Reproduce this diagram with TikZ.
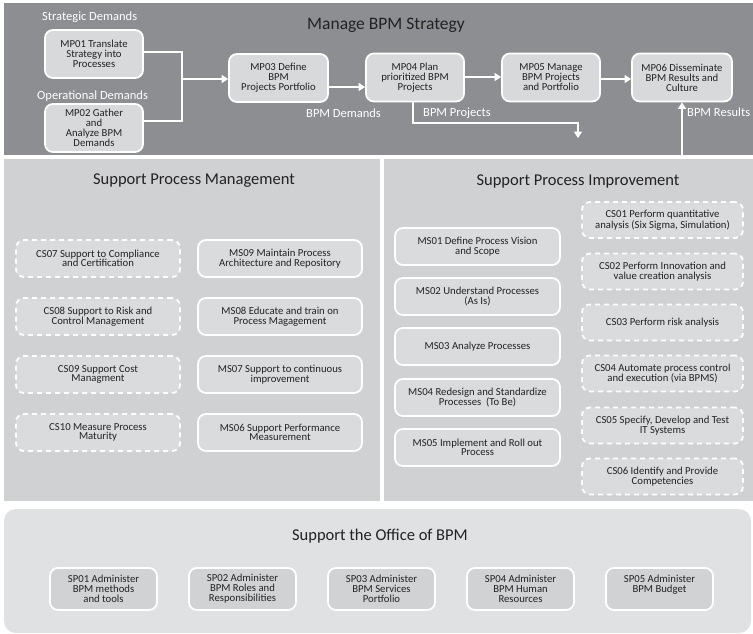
\documentclass[tikz,border=0pt]{standalone}
\usepackage{fontspec}
\setmainfont{Carlito}
\usetikzlibrary{arrows.meta}

\definecolor{bandgray}{HTML}{8D8E92}
\definecolor{panelgray}{HTML}{D0D1D3}
\definecolor{boxgray}{HTML}{D8D9DB}
\definecolor{innergray}{HTML}{DADBDD}
\definecolor{officegray}{HTML}{E0E1E3}
\definecolor{spgray}{HTML}{D1D2D4}
\definecolor{inkgray}{HTML}{222222}

\begin{document}
\begin{tikzpicture}[x=1pt,y=-1pt,
  proc/.style={draw=white, line width=1.8pt, rounded corners=8pt, fill=boxgray,
    text=inkgray, align=center, inner sep=0pt,
    font=\fontsize{10.7}{10}\selectfont},
  mpbox/.style={proc, minimum width=98pt, minimum height=48pt},
  msbox/.style={proc, fill=innergray, minimum height=37pt,
    font=\fontsize{10.7}{9.5}\selectfont},
  csbox/.style={msbox, dash pattern=on 5pt off 4pt},
  spbox/.style={proc, fill=spgray, minimum width=107pt, minimum height=42pt},
  flowline/.style={draw=white, line width=1.8pt},
  flow/.style={flowline, -{Triangle[width=8pt,length=6.5pt]}},
  whitelabel/.style={text=white, inner sep=0pt, font=\fontsize{12.5}{14}\selectfont},
  paneltitle/.style={text=inkgray, inner sep=0pt, font=\fontsize{16.5}{19}\selectfont}
]
% canvas and bounding box
\fill[white] (0,0) rectangle (753,634);
\useasboundingbox (0,0) rectangle (753,634);

% three areas
\fill[bandgray] (4,3) rectangle (753,155);
\fill[panelgray] (4,159) rectangle (380,501);
\fill[panelgray] (384,159) rectangle (753,501);
\fill[officegray, rounded corners=12pt] (4,509) rectangle (751,633);

% ---------- Manage BPM Strategy ----------
\node[paneltitle, font=\fontsize{17.5}{20}\selectfont] (ttlstrategy) at (386,25) {Manage BPM Strategy};
\node[whitelabel, anchor=west] (lblstrat) at (42,17) {Strategic Demands};
\node[whitelabel, anchor=west] (lbloper) at (37,96) {Operational Demands};

\node[mpbox] (mp01) at (94,54) {MP01 Translate\\Strategy into\\Processes};
\node[mpbox] (mp02) at (94,128) {MP02 Gather\\and\\Analyze BPM\\Demands};
\node[mpbox, minimum width=99pt] (mp03) at (278.5,78) {MP03 Define\\BPM\\Projects Portfolio};
\node[mpbox] (mp04) at (415,77.5) {MP04 Plan\\prioritized BPM\\Projects};
\node[mpbox] (mp05) at (551,77.5) {MP05 Manage\\BPM Projects\\and Portfolio};
\node[mpbox, minimum width=100pt] (mp06) at (682,77.5) {MP06 Disseminate\\BPM Results and\\Culture};

\node[whitelabel, anchor=west] (lbldem) at (306,113) {BPM Demands};
\node[whitelabel, anchor=west] (lblproj) at (423,113) {BPM Projects};
\node[whitelabel, anchor=west] (lblres) at (687,112) {BPM Results};

% demand inputs merge into the portfolio definition
\coordinate (merge) at (182,79);
\draw[flowline] (mp01.east |- 0,52) -| (merge);
\draw[flowline] (mp02.east |- 0,121) -| (merge);
\draw[flow] (merge) -- (mp03.west |- merge);
\draw[flow] (mp03.east |- 0,87) -- (mp04.west |- 0,87);
\draw[flow] (mp04.east |- 0,77) -- (mp05.west |- 0,77);
\draw[flow] (mp05.east |- 0,79) -- (mp06.west |- 0,79);

% projects handed down, results reported up
\coordinate (projturn) at (578,123);
\coordinate (projend) at (578,138);
\draw[flow] (413,0 |- mp04.south) |- (projturn) -- (projend);
\coordinate (resstart) at (682,158);
\draw[flow] (resstart) -- (resstart |- mp06.south);

% ---------- Support Process Management ----------
\node[paneltitle] (ttlmgmt) at (194,181) {Support Process Management};

\node[csbox, minimum width=164pt] (cs07) at (98,258.5) {CS07 Support to Compliance\\and Certification};
\node[csbox, minimum width=164pt] (cs08) at (98,316.5) {CS08 Support to Risk and\\Control Management};
\node[csbox, minimum width=164pt] (cs09) at (98,374.5) {CS09 Support Cost\\Managment};
\node[csbox, minimum width=164pt] (cs10) at (98,432.5) {CS10 Measure Process\\Maturity};

\node[msbox, minimum width=164pt] (ms09) at (280,258.5) {MS09 Maintain Process\\Architecture and Repository};
\node[msbox, minimum width=164pt] (ms08) at (280,316.5) {MS08 Educate and train on\\Process Magagement};
\node[msbox, minimum width=164pt] (ms07) at (280,374.5) {MS07 Support to continuous\\improvement};
\node[msbox, minimum width=164pt] (ms06) at (280,432.5) {MS06 Support Performance\\Measurement};

% ---------- Support Process Improvement ----------
\node[paneltitle] (ttlimpr) at (578,181) {Support Process Improvement};

\node[msbox, minimum width=165pt] (ms01) at (477.5,246.5) {MS01 Define Process Vision\\and Scope};
\node[msbox, minimum width=165pt] (ms02) at (477.5,296.5) {MS02 Understand Processes\\(As Is)};
\node[msbox, minimum width=165pt] (ms03) at (477.5,346.5) {MS03 Analyze Processes};
\node[msbox, minimum width=165pt] (ms04) at (477.5,397.5) {MS04 Redesign and Standardize\\Processes~~(To Be)};
\node[msbox, minimum width=165pt] (ms05) at (477.5,447.5) {MS05 Implement and Roll out\\Process};

\node[csbox, minimum width=161pt, minimum height=36pt] (cs01) at (662.5,220) {CS01 Perform quantitative\\analysis (Six Sigma, Simulation)};
\node[csbox, minimum width=161pt, minimum height=36pt] (cs02) at (662.5,271.5) {CS02 Perform Innovation and\\value creation analysis};
\node[csbox, minimum width=161pt, minimum height=36pt] (cs03) at (662.5,322.5) {CS03 Perform risk analysis};
\node[csbox, minimum width=161pt, minimum height=36pt] (cs04) at (662.5,373.5) {CS04 Automate process control\\and execution (via BPMS)};
\node[csbox, minimum width=161pt, minimum height=36pt] (cs05) at (662.5,425.5) {CS05 Specify, Develop and Test\\IT Systems};
\node[csbox, minimum width=161pt, minimum height=36pt] (cs06) at (662.5,476.5) {CS06 Identify and Provide\\Competencies};

% ---------- Support the Office of BPM ----------
\node[paneltitle] (ttloffice) at (380,536) {Support the Office of BPM};

\node[spbox] (sp01) at (103.5,589) {SP01 Administer\\BPM methods\\and tools};
\node[spbox] (sp02) at (242.5,589) {SP02 Administer\\BPM Roles and\\Responsibilities};
\node[spbox] (sp03) at (381.5,589) {SP03 Administer\\BPM Services\\Portfolio};
\node[spbox] (sp04) at (520.5,589) {SP04 Administer\\BPM Human\\Resources};
\node[spbox] (sp05) at (659.5,589) {SP05 Administer\\BPM Budget\\~};
\end{tikzpicture}
\end{document}
